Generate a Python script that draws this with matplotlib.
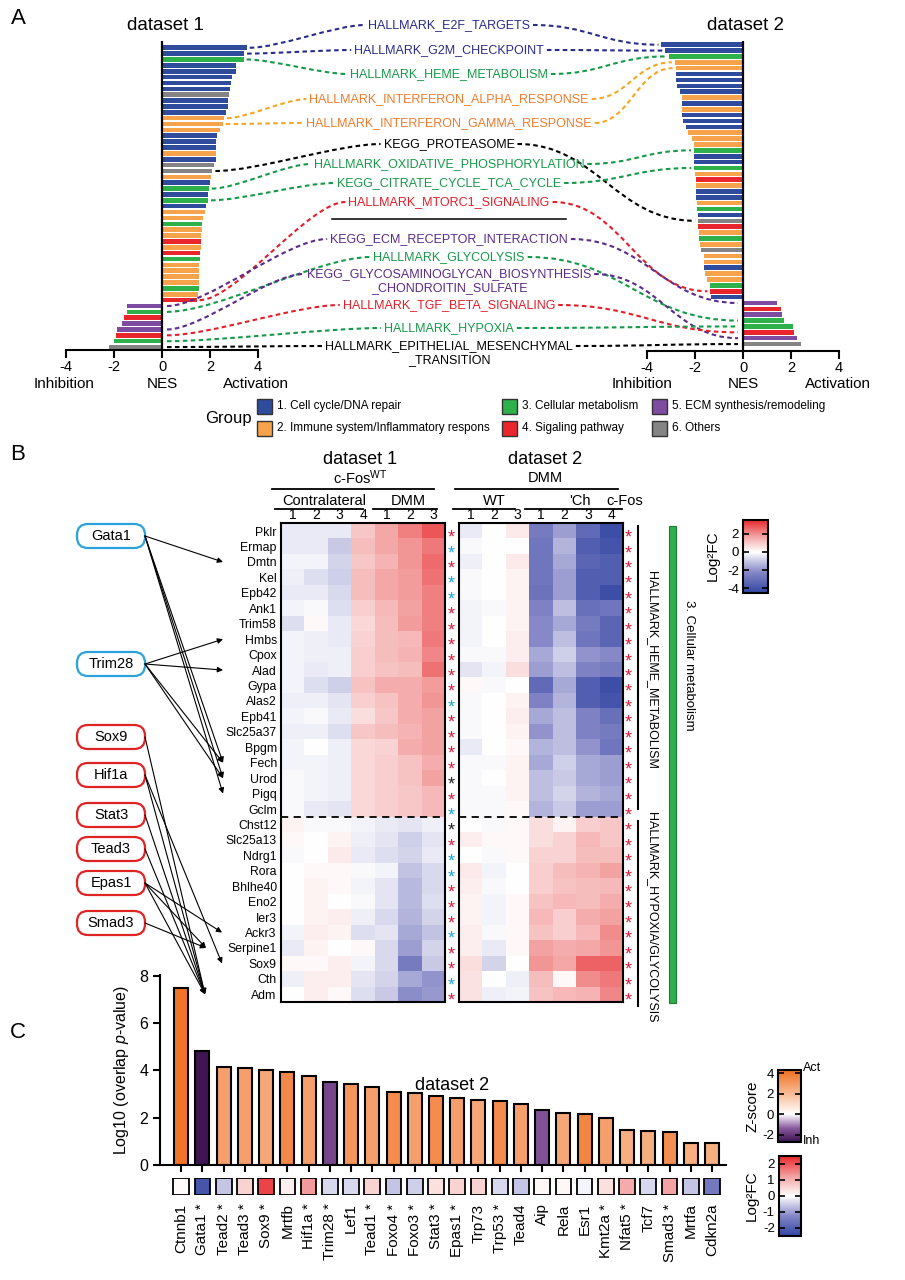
import numpy as np
import matplotlib
matplotlib.use('Agg')
import matplotlib.pyplot as plt
import matplotlib.transforms as mtransforms
from matplotlib.colors import LinearSegmentedColormap, Normalize
from matplotlib.patches import Rectangle, FancyBboxPatch, PathPatch
from matplotlib.path import Path
from matplotlib.cm import ScalarMappable

plt.rcParams['font.family'] = ['Liberation Sans', 'DejaVu Sans']
plt.rcParams['axes.unicode_minus'] = False
plt.rcParams['mathtext.fontset'] = 'custom'
plt.rcParams['mathtext.rm'] = 'Liberation Sans'
plt.rcParams['mathtext.it'] = 'Liberation Sans:italic'

# ---------------- DATA ----------------
# Panel A : NES of gene sets, ordered as bars (top -> bottom)
ds1_nes = [3.53, 3.42, 3.40, 3.10, 3.08, 2.90, 2.88, 2.84, 2.81, 2.74,
           2.73, 2.68, 2.58, 2.53, 2.42, 2.30, 2.27, 2.25, 2.25, 2.25,
           2.16, 2.10, 2.04, 2.01, 1.95, 1.93, 1.92, 1.85, 1.78, 1.70,
           1.68, 1.68, 1.64, 1.62, 1.62, 1.60, 1.58, 1.56, 1.56, 1.56,
           1.56, 1.53, 1.48, 1.44, -1.47, -1.47, -1.58, -1.67, -1.88, -1.92,
           -2.01, -2.19]
ds1_grp = [1, 1, 3, 1, 1, 1, 1, 1, 6, 1, 1, 1, 2, 2, 2, 1, 1, 1, 2, 1,
           6, 6, 2, 1, 3, 1, 3, 1, 2, 2, 3, 2, 2, 4, 2, 4, 3, 2, 2, 2,
           2, 3, 2, 4, 5, 3, 4, 5, 5, 4, 3, 6]
ds2_nes = [-3.40, -3.23, -3.09, -2.84, -2.81, -2.78, -2.78, -2.74, -2.63, -2.56,
           -2.56, -2.55, -2.55, -2.50, -2.39, -2.28, -2.11, -2.06, -2.04, -2.04,
           -2.03, -2.03, -2.00, -1.96, -1.96, -1.94, -1.94, -1.92, -1.92, -1.87,
           -1.87, -1.86, -1.85, -1.83, -1.80, -1.75, -1.64, -1.64, -1.62, -1.58,
           -1.48, -1.37, -1.36, -1.34, 1.40, 1.57, 1.61, 1.71, 2.10, 2.13,
           2.27, 2.41]
ds2_grp = [1, 1, 3, 2, 2, 1, 1, 1, 1, 2, 1, 2, 1, 1, 1, 2, 2, 2, 3, 1,
           1, 3, 2, 4, 2, 1, 1, 2, 3, 1, 6, 4, 2, 3, 2, 6, 2, 2, 1, 2,
           2, 3, 4, 1, 5, 4, 5, 3, 3, 4, 5, 6]
group_names = ['1. Cell cycle/DNA repair', '2. Immune system/Inflammatory respons',
               '3. Cellular metabolism', '4. Sigaling pathway',
               '5. ECM synthesis/remodeling', '6. Others']

pw_names = ['HALLMARK_E2F_TARGETS', 'HALLMARK_G2M_CHECKPOINT', 'HALLMARK_HEME_METABOLISM',
            'HALLMARK_INTERFERON_ALPHA_RESPONSE', 'HALLMARK_INTERFERON_GAMMA_RESPONSE',
            'KEGG_PROTEASOME', 'HALLMARK_OXIDATIVE_PHOSPHORYLATION',
            'KEGG_CITRATE_CYCLE_TCA_CYCLE', 'HALLMARK_MTORC1_SIGNALING',
            'KEGG_ECM_RECEPTOR_INTERACTION', 'HALLMARK_GLYCOLYSIS',
            'KEGG_GLYCOSAMINOGLYCAN_BIOSYNTHESIS\n_CHONDROITIN_SULFATE',
            'HALLMARK_TGF_BETA_SIGNALING', 'HALLMARK_HYPOXIA',
            'HALLMARK_EPITHELIAL_MESENCHYMAL\n_TRANSITION']
pw_group = [1, 1, 3, 2, 2, 6, 3, 3, 4, 5, 3, 5, 4, 3, 6]
pw_ds1_idx = [0, 1, 2, 12, 13, 21, 24, 26, 43, 44, 45, 48, 49, 50, 51]
pw_ds2_idx = [0, 1, 2, 3, 4, 30, 18, 21, 42, 44, 47, 50, 49, 48, 51]

# Panel B : log2FC heatmaps
heme_genes = ['Pklr', 'Ermap', 'Dmtn', 'Kel', 'Epb42', 'Ank1', 'Trim58', 'Hmbs', 'Cpox',
              'Alad', 'Gypa', 'Alas2', 'Epb41', 'Slc25a37', 'Bpgm', 'Fech', 'Urod', 'Pigq', 'Gclm']
hyp_genes = ['Chst12', 'Slc25a13', 'Ndrg1', 'Rora', 'Bhlhe40', 'Eno2', 'Ier3', 'Ackr3',
             'Serpine1', 'Sox9', 'Cth', 'Adm']
ds1_cols = ['1', '2', '3', '4', '1', '2', '3']
ds2_cols = ['1', '2', '3', '1', '2', '3', '4']
ds1_fc = [
    [-0.4, -0.4, -0.4, 1.0, 1.6, 2.2, 2.8],
    [-0.4, -0.4, -1.0, 1.2, 1.6, 1.9, 2.3],
    [-0.2, -0.2, -0.8, 1.0, 1.4, 1.9, 2.5],
    [-0.3, -0.6, -0.9, 1.2, 1.6, 1.8, 2.4],
    [-0.4, -0.4, -0.7, 1.2, 1.6, 1.8, 2.2],
    [-0.2, -0.1, -0.6, 0.9, 1.3, 1.7, 2.2],
    [-0.6, 0.1, -0.4, 0.7, 1.2, 1.8, 2.2],
    [-0.2, -0.3, -0.4, 0.8, 1.2, 1.3, 2.3],
    [-0.2, -0.3, -0.3, 0.9, 1.2, 1.4, 2.1],
    [-0.2, -0.4, -0.3, 0.9, 1.1, 1.2, 2.4],
    [-0.2, -0.6, -0.9, 1.1, 1.5, 1.5, 1.8],
    [-0.3, -0.3, -0.5, 0.9, 1.1, 1.5, 1.9],
    [-0.2, -0.1, -0.4, 0.6, 1.0, 1.5, 1.7],
    [-0.3, -0.3, -0.6, 1.0, 1.2, 1.4, 1.7],
    [-0.2, 0.0, -0.3, 0.7, 0.8, 1.5, 1.7],
    [-0.2, -0.2, -0.3, 0.7, 0.9, 1.1, 1.5],
    [-0.1, -0.2, -0.3, 0.7, 0.9, 1.1, 1.7],
    [-0.1, -0.2, -0.3, 0.7, 0.9, 1.0, 1.3],
    [-0.1, -0.4, -0.5, 0.7, 0.9, 1.0, 1.3],
    [0.2, -0.1, -0.1, -0.2, -0.4, -0.5, -0.3],
    [0.1, 0.0, 0.2, -0.3, -0.5, -0.9, -0.5],
    [-0.1, 0.0, 0.4, -0.4, -0.6, -0.8, -0.4],
    [0.0, 0.1, 0.1, -0.1, -0.2, -1.1, -0.7],
    [0.0, 0.2, 0.1, -0.2, -0.5, -1.3, -0.7],
    [0.0, 0.2, 0.0, -0.1, -0.5, -1.3, -0.6],
    [0.0, 0.2, 0.3, -0.3, -0.7, -1.4, -0.8],
    [-0.2, 0.3, 0.2, -0.6, -0.5, -1.6, -1.1],
    [-0.4, 0.2, 0.0, 0.1, -0.7, -1.8, -0.8],
    [0.1, 0.1, 0.3, -0.2, -0.7, -2.6, -1.0],
    [-0.3, 0.3, 0.3, -0.5, -0.8, -1.6, -2.0],
    [0.0, 0.3, 0.1, -0.6, -1.0, -2.1, -1.9],
]
ds2_fc = [
    [-0.4, 0.0, 0.4, -2.6, -1.8, -3.2, -4.2],
    [-0.1, 0.0, 0.0, -2.8, -1.4, -3.6, -4.0],
    [-0.3, 0.0, 0.4, -2.8, -1.6, -3.4, -3.6],
    [-0.1, 0.0, 0.2, -2.8, -1.8, -3.6, -3.6],
    [-0.1, 0.0, 0.2, -2.9, -1.8, -3.6, -4.2],
    [-0.2, -0.1, 0.2, -2.4, -1.2, -3.0, -2.8],
    [-0.2, 0.0, 0.2, -2.2, -1.6, -2.6, -3.4],
    [-0.2, 0.0, 0.3, -2.2, -1.2, -2.8, -3.4],
    [-0.1, -0.1, 0.3, -1.6, -0.9, -2.0, -2.2],
    [-0.5, -0.2, 0.6, -1.8, -1.2, -2.4, -2.6],
    [0.1, -0.1, 0.0, -3.2, -1.6, -3.6, -4.2],
    [-0.1, 0.0, 0.2, -2.4, -1.4, -3.6, -4.0],
    [-0.1, 0.0, 0.3, -1.6, -1.2, -2.4, -3.0],
    [-0.1, 0.0, 0.2, -2.0, -1.2, -2.4, -2.6],
    [-0.4, 0.0, 0.1, -1.4, -1.2, -2.0, -2.8],
    [-0.1, -0.1, 0.2, -1.6, -0.9, -1.6, -1.8],
    [-0.1, 0.0, 0.2, -1.2, -1.0, -1.6, -1.8],
    [-0.1, -0.1, 0.2, -1.2, -0.8, -1.4, -1.6],
    [-0.1, -0.1, 0.1, -1.4, -1.0, -1.8, -1.8],
    [0.0, -0.1, 0.1, 0.6, 0.2, 0.9, 1.0],
    [0.3, 0.1, 0.1, 0.6, 0.8, 1.3, 1.0],
    [0.0, -0.1, 0.1, 0.8, 0.8, 1.2, 1.2],
    [0.4, -0.2, 0.0, 0.9, 1.2, 1.4, 1.7],
    [0.3, -0.1, 0.0, 0.9, 1.1, 1.2, 1.3],
    [0.2, -0.2, 0.1, 1.1, 1.3, 1.2, 1.5],
    [0.2, -0.2, 0.1, 1.3, 0.9, 1.5, 1.7],
    [0.3, -0.1, 0.1, 1.1, 0.9, 1.3, 2.0],
    [0.3, -0.4, 0.1, 1.7, 1.5, 1.6, 1.9],
    [0.6, -0.8, 0.0, 1.9, 1.6, 2.6, 2.6],
    [0.5, 0.0, -0.3, 1.2, 0.1, 2.0, 2.3],
    [0.5, -0.3, -0.2, 1.1, 1.3, 1.4, 2.1],
]
# significance stars: r = red, c = cyan, k = black
ds1_star = ['r', 'c', 'r', 'c', 'c', 'r', 'r', 'r', 'r', 'r', 'r', 'c', 'r', 'r', 'r', 'r',
            'k', 'r', 'c', 'k', 'r', 'c', 'c', 'r', 'r', 'r', 'c', 'r', 'r', 'c', 'r']
ds2_star = ['r'] * 31
tf_act = ['Gata1', 'Trim28']
tf_rep = ['Sox9', 'Hif1a', 'Stat3', 'Tead3', 'Epas1', 'Smad3']
tf_links = [('Gata1', 'Dmtn'), ('Gata1', 'Fech'), ('Gata1', 'Urod'), ('Gata1', 'Pigq'),
            ('Trim28', 'Hmbs'), ('Trim28', 'Alad'), ('Trim28', 'Fech'), ('Trim28', 'Urod'),
            ('Sox9', 'Adm'), ('Hif1a', 'Adm'), ('Hif1a', 'Sox9'), ('Stat3', 'Adm'),
            ('Tead3', 'Adm'), ('Epas1', 'Ackr3'), ('Epas1', 'Serpine1'), ('Epas1', 'Adm'),
            ('Smad3', 'Serpine1')]

# Panel C : upstream regulators
reg_names = ['Ctnnb1', 'Gata1', 'Tead2', 'Tead3', 'Sox9', 'Mrtfb', 'Hif1a', 'Trim28', 'Lef1',
             'Tead1', 'Foxo4', 'Foxo3', 'Stat3', 'Epas1', 'Trp73', 'Trp53', 'Tead4', 'Aip',
             'Rela', 'Esr1', 'Kmt2a', 'Nfat5', 'Tcf7', 'Smad3', 'Mrtfa', 'Cdkn2a']
reg_logp = [7.46, 4.83, 4.15, 4.10, 4.01, 3.92, 3.76, 3.49, 3.41, 3.31, 3.07, 3.04, 2.90,
            2.82, 2.76, 2.70, 2.59, 2.32, 2.21, 2.17, 2.00, 1.49, 1.44, 1.39, 0.94, 0.92]
reg_z = [4.1, -2.6, 2.8, 2.8, 2.6, 3.5, 2.8, -1.7, 3.1, 2.8, 3.4, 2.8, 3.4, 2.8, 2.6, 3.4,
         2.8, -1.5, 2.6, 3.6, 2.8, 2.4, 2.4, 3.3, 2.4, 2.4]
reg_fc = [0.05, -2.2, -0.6, 0.6, 2.2, 0.2, 1.3, -0.4, -0.4, 0.6, -0.6, -0.5, 0.4, 0.6, 0.6,
          -0.4, -0.6, 0.1, 0.1, -0.1, 0.4, 1.1, -0.4, 1.2, -0.6, -1.5]
reg_sig = [False, True, True, True, True, False, True, True, False, True, True, True, True,
           True, False, True, False, False, False, False, True, True, False, True, False, False]

# ---------------- STYLE ----------------
grp_col = {1: '#2f4c9c', 2: '#f6a34b', 3: '#2eb04b', 4: '#e8262b', 5: '#7d4b9f', 6: '#848484'}
txt_col = {1: '#2a2b8a', 2: '#f07b2b', 3: '#17994a', 4: '#e21f2a', 5: '#5b2a8a', 6: 'black'}
line_col = {1: '#2a2b8a', 2: '#f5a623', 3: '#17994a', 4: '#e21f2a', 5: '#5b2a8a', 6: 'black'}
star_col = {'r': '#e3203a', 'c': '#1fa8d8', 'k': '#222222'}

fc_lo, fc_hi = -4.5, 3.5
wz = -fc_lo / (fc_hi - fc_lo)
fc_cmap = LinearSegmentedColormap.from_list('fc', [
    (0.0, '#3246a2'), (wz * 0.5, '#8486c6'), (wz, '#ffffff'),
    (wz + (1 - wz) * 0.5, '#f3a0a0'), (1.0, '#e8272b')])
fc_norm = Normalize(fc_lo, fc_hi)
fc2_cmap = LinearSegmentedColormap.from_list('fc2', [
    (0.0, '#3246a2'), (0.25, '#8486c6'), (0.5, '#ffffff'), (0.75, '#f3a0a0'), (1.0, '#e8272b')])
fc2_norm = Normalize(-2.5, 2.5)
z_lo, z_hi = -2.7, 4.3
zw = -z_lo / (z_hi - z_lo)
z_cmap = LinearSegmentedColormap.from_list('z', [
    (0.0, '#3a124e'), (zw * 0.5, '#8a5aa0'), (zw, '#ffffff'), (1.0, '#f06e1e')])
z_norm = Normalize(z_lo, z_hi)

W, H = 905, 1280
fig = plt.figure(figsize=(W / 100, H / 100), dpi=100)


def add_ax(x0, y0, x1, y1, **kw):
    return fig.add_axes([x0 / W, 1 - y1 / H, (x1 - x0) / W, (y1 - y0) / H], **kw)


ov = fig.add_axes([0, 0, 1, 1], zorder=10)
ov.set_xlim(0, W)
ov.set_ylim(H, 0)
ov.axis('off')
ov.patch.set_alpha(0)


def to_ov(ax, x, y):
    d = ax.transData.transform((x, y))
    return ov.transData.inverted().transform(d)


# ---------------- PANEL A ----------------
def nes_axes(ax, nes, grp, ylims):
    ax.barh(range(len(nes)), nes, height=0.78, color=[grp_col[g] for g in grp], zorder=2)
    ax.set_xlim(-4, 4)
    ax.set_ylim(*ylims)
    ax.axvline(0, color='k', lw=1.6, zorder=3)
    for s in ['top', 'right', 'left']:
        ax.spines[s].set_visible(False)
    ax.spines['bottom'].set_linewidth(1.5)
    ax.set_yticks([])
    ax.set_xticks([-4, -2, 0, 2, 4])
    ax.tick_params(axis='x', length=6, width=1.5, labelsize=10.5, pad=1)
    ax.patch.set_alpha(0)


axL = add_ax(66, 40.7, 258, 350)
nes_axes(axL, ds1_nes, ds1_grp, (51.5, -1.2))
axR = add_ax(647, 40.6, 839, 351)
nes_axes(axR, ds2_nes, ds2_grp, (52.18, -0.7))

for xc, lab in [(64, 'Inhibition'), (162, 'NES'), (256, 'Activation'),
                (642, 'Inhibition'), (743, 'NES'), (838, 'Activation')]:
    ov.text(xc, 384, lab, ha='center', va='center', fontsize=11)
ov.text(165, 25, 'dataset 1', ha='center', va='center', fontsize=13.5)
ov.text(745, 25, 'dataset 2', ha='center', va='center', fontsize=13.5)
ov.text(18, 18, 'A', ha='center', va='center', fontsize=16)
ov.text(18, 455, 'B', ha='center', va='center', fontsize=16)
ov.text(18, 1032, 'C', ha='center', va='center', fontsize=16)

pw_y = [25, 50, 74, 99, 123, 144, 164, 183, 202, 239, 257, 274, 305, 328, 346]
renderer = fig.canvas.get_renderer()


def s_curve(p0, p1, color, f=0.35):
    (x0, y0), (x1, y1) = p0, p1
    dx = x1 - x0
    verts = [(x0, y0), (x0 + f * dx, y0), (x1 - f * dx, y1), (x1, y1)]
    codes = [Path.MOVETO, Path.CURVE4, Path.CURVE4, Path.CURVE4]
    ov.add_patch(PathPatch(Path(verts, codes), fill=False, ec=color, lw=1.5,
                           ls=(0, (2.2, 1.6))))


for k, name in enumerate(pw_names):
    parts = name.split('\n')
    g = pw_group[k]
    t = ov.text(449, pw_y[k], parts[0], ha='center', va='center', fontsize=9,
                color=txt_col[g])
    if len(parts) > 1:
        ov.text(449, pw_y[k] + 14, parts[1], ha='center', va='center', fontsize=9,
                color=txt_col[g])
    bb = t.get_window_extent(renderer)
    inv = ov.transData.inverted()
    lx = inv.transform((bb.x0, 0))[0] - 3
    rx = inv.transform((bb.x1, 0))[0] + 3
    i = pw_ds1_idx[k]
    v = ds1_nes[i]
    p0 = to_ov(axL, v, i) + np.array([3, 0]) if v > 0 else to_ov(axL, 0, i) + np.array([5, 0])
    s_curve(p0, (lx, pw_y[k]), line_col[g], f=0.25)
    j = pw_ds2_idx[k]
    v2 = ds2_nes[j]
    p1 = to_ov(axR, v2, j) - np.array([3, 0]) if v2 < 0 else to_ov(axR, 0, j) - np.array([5, 0])
    s_curve((rx, pw_y[k]), p1, line_col[g], f=0.45)

ov.plot([332, 566], [219, 219], color='k', lw=1.1)

# legend
ov.text(228, 418, 'Group', ha='center', va='center', fontsize=12)
leg_pos = [(257, 406), (257, 428), (502, 406), (502, 428), (652, 406), (652, 428)]
for gi, (lx, ly) in enumerate(leg_pos):
    ov.add_patch(Rectangle((lx, ly - 7.5), 15, 15, facecolor=grp_col[gi + 1],
                           edgecolor='#333333', lw=1.0))
    ov.text(lx + 20, ly, group_names[gi], ha='left', va='center', fontsize=8.5)

# ---------------- PANEL B ----------------
rows = heme_genes + hyp_genes
n_heme = len(heme_genes)


def heat(ax, data, cols, stars, star_x):
    ax.imshow(np.array(data), cmap=fc_cmap, norm=fc_norm, aspect='auto',
              interpolation='nearest')
    ax.xaxis.tick_top()
    ax.set_xticks(range(len(cols)))
    ax.set_xticklabels(cols, fontsize=10)
    ax.tick_params(axis='x', length=0, pad=1)
    for s in ax.spines.values():
        s.set_linewidth(1.5)
    ax.axhline(n_heme - 0.5, color='k', lw=1.3, ls=(0, (4, 3)))
    tr = mtransforms.blended_transform_factory(ax.transAxes, ax.transData)
    for i, c in enumerate(stars):
        ax.text(star_x, i + 0.45, '*', transform=tr, ha='center', va='center',
                fontsize=13, color=star_col[c], clip_on=False)


axH1 = add_ax(281, 523.4, 445, 1002)
heat(axH1, ds1_fc, ds1_cols, ds1_star, 1.037)
axH1.set_yticks(range(len(rows)))
axH1.set_yticklabels(rows, fontsize=8.8)
axH1.tick_params(axis='y', length=0, pad=3)

axH2 = add_ax(459, 523.4, 623, 1002)
heat(axH2, ds2_fc, ds2_cols, ds2_star, 1.03)
axH2.set_yticks([])

# headers
hdr = [(360, 460, 'dataset 1', 13), (360, 478, r'c-Fos$^{\mathrm{WT}}$', 10.5),
       (324, 501, 'Contralateral', 10.5), (408, 501, 'DMM', 10.5),
       (545, 460, 'dataset 2', 13), (545, 478, 'DMM', 10.5),
       (494, 501, 'WT', 10.5), (580, 501, "'Ch", 10.5), (625, 501, 'c-Fos', 10.5)]
for x, y, s, fs in hdr:
    ov.text(x, y, s, ha='center', va='center', fontsize=fs)
for x0, x1, y in [(272, 434, 489), (275, 363, 509), (373, 437, 509),
                  (455, 618, 489), (453, 515, 509), (525, 622, 509)]:
    ov.plot([x0, x1], [y, y], color='k', lw=1.3)

# right brackets
ytop = to_ov(axH2, 0, -0.5)[1]
ysep = to_ov(axH2, 0, n_heme - 0.5)[1]
ybot = to_ov(axH2, 0, len(rows) - 0.5)[1]
ov.plot([638, 638], [ytop + 3, ysep - 8], color='k', lw=1.5)
ov.plot([638, 638], [ysep + 4, ybot + 4], color='k', lw=1.5)
ov.text(652, (ytop + ysep) / 2, 'HALLMARK_HEME_METABOLISM', rotation=-90, ha='center',
        va='center', fontsize=9)
ov.text(652, 917, 'HALLMARK_HYPOXIA/GLYCOLYSIS', rotation=-90, ha='center', va='center',
        fontsize=9)
ov.add_patch(Rectangle((669, ytop + 3), 7, ybot - ytop - 2, facecolor='#2eb04b',
                       edgecolor='#1e7a35', lw=0.8))
ov.text(689, 665, '3. Cellular metabolism', rotation=-90, ha='center', va='center',
        fontsize=9.5)

# colorbar B
caxB = add_ax(743, 520, 768, 593)
cbB = fig.colorbar(ScalarMappable(norm=fc_norm, cmap=fc_cmap), cax=caxB)
cbB.set_ticks([2, 0, -2, -4])
caxB.yaxis.set_ticks_position('both')
caxB.tick_params(axis='y', direction='in', length=4, width=1.2, labelsize=9.5,
                 labelleft=True, labelright=False, pad=3)
cbB.outline.set_linewidth(1.5)
ov.text(713, 556, 'Log²FC', rotation=90, ha='center', va='center', fontsize=11)

# TF boxes + arrows
tf_y = {'Gata1': 536, 'Trim28': 664, 'Sox9': 737, 'Hif1a': 775, 'Stat3': 815,
        'Tead3': 849, 'Epas1': 883, 'Smad3': 923}
for name, yc in tf_y.items():
    ec = '#2aa3dc' if name in tf_act else '#e02424'
    ov.add_patch(FancyBboxPatch((77, yc - 12), 68, 24,
                                boxstyle='round,pad=0,rounding_size=11',
                                facecolor='white', edgecolor=ec, lw=1.6))
    ov.text(111, yc, name, ha='center', va='center', fontsize=10.5)
tip_x = {'Adm': 205, 'Serpine1': 206, 'Sox9': 222, 'Ackr3': 222}
for src, dst in tf_links:
    r = rows.index(dst)
    ty = to_ov(axH1, 0, r)[1]
    tx = tip_x.get(dst, 223)
    ov.annotate('', xy=(tx, ty), xytext=(145, tf_y[src]),
                arrowprops=dict(arrowstyle='-|>', color='k', lw=0.8, mutation_scale=8,
                                shrinkA=0, shrinkB=0))

# ---------------- PANEL C ----------------
axC = add_ax(160, 974.5, 725.8, 1165)
xs = np.arange(len(reg_names))
axC.bar(xs, reg_logp, width=0.66, color=[z_cmap(z_norm(z)) for z in reg_z],
        edgecolor='k', lw=1.5, zorder=2)
axC.set_xlim(-1.0, 25.65)
axC.set_ylim(0, 8.05)
for s in ['top', 'right']:
    axC.spines[s].set_visible(False)
axC.spines['left'].set_linewidth(1.5)
axC.spines['bottom'].set_linewidth(1.5)
axC.set_yticks([0, 2, 4, 6, 8])
axC.set_xticks(xs)
axC.set_xticklabels([])
axC.tick_params(axis='both', length=5, width=1.5, labelsize=11.5)
axC.set_ylabel(r'Log10 (overlap $\it{p}$-value)', fontsize=11.5, labelpad=6)
axC.patch.set_alpha(0)
ov.text(452, 1085, 'dataset 2', ha='center', va='center', fontsize=13)

axS = add_ax(160, 1178, 725.8, 1195)
axS.set_xlim(-1.0, 25.65)
axS.set_ylim(1, 0)
axS.axis('off')
for i, (nm, fcv, sg) in enumerate(zip(reg_names, reg_fc, reg_sig)):
    axS.add_patch(Rectangle((i - 0.37, 0), 0.74, 1, facecolor=fc2_cmap(fc2_norm(fcv)),
                            edgecolor='k', lw=1.3))
    axS.text(i, 1.5, nm + (' *' if sg else ''), rotation=90, ha='center', va='top',
             fontsize=11)

# Z-score colorbar
caxZ = add_ax(778, 1070, 801, 1142)
cbZ = fig.colorbar(ScalarMappable(norm=z_norm, cmap=z_cmap), cax=caxZ)
cbZ.set_ticks([4, 2, 0, -2])
caxZ.yaxis.set_ticks_position('both')
caxZ.tick_params(axis='y', direction='in', length=4, width=1.2, labelsize=9.5,
                 labelleft=True, labelright=False, pad=3)
cbZ.outline.set_linewidth(1.5)
ov.text(752, 1106, 'Z-score', rotation=90, ha='center', va='center', fontsize=11)
ov.text(803, 1068, 'Act', ha='left', va='center', fontsize=9)
ov.text(803, 1141, 'Inh', ha='left', va='center', fontsize=9)

# log2FC colorbar C
caxF = add_ax(779, 1156, 801, 1236)
cbF = fig.colorbar(ScalarMappable(norm=fc2_norm, cmap=fc2_cmap), cax=caxF)
cbF.set_ticks([2, 1, 0, -1, -2])
caxF.yaxis.set_ticks_position('both')
caxF.tick_params(axis='y', direction='in', length=4, width=1.2, labelsize=9.5,
                 labelleft=True, labelright=False, pad=3)
cbF.outline.set_linewidth(1.5)
ov.text(752, 1196, 'Log²FC', rotation=90, ha='center', va='center', fontsize=11)

fig.savefig('out.png', dpi=100)
